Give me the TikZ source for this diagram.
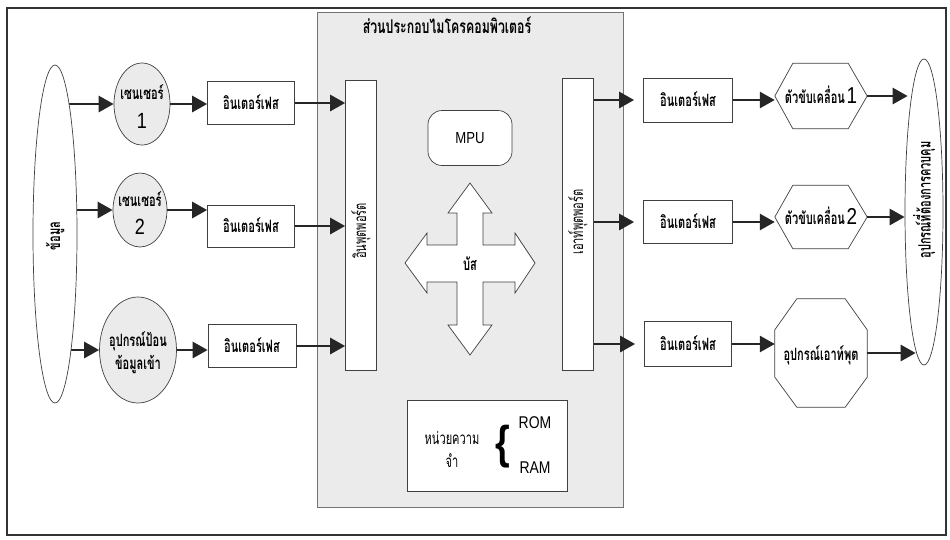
\documentclass[tikz,border=0pt]{standalone}
\usepackage{fontspec}
\setmainfont{Liberation Sans}
\newfontfamily\thf[Script=Thai,FakeStretch=0.65]{Loma}
\newfontfamily\narrowf[FakeStretch=0.82]{Liberation Sans}
\usetikzlibrary{arrows.meta,shapes.geometric,calc}
\pgfdeclarelayer{bg}
\pgfsetlayers{bg,main}
\begin{document}
\begin{tikzpicture}[x=1pt,y=-1pt,
  shp/.style={draw=black!75,line width=0.7pt},
  box/.style={shp,rectangle,fill=white,inner sep=0pt},
  oval/.style={shp,ellipse,inner sep=0pt},
  arr/.style={line width=2.8pt,draw=black!85,-{Triangle[length=15pt,width=16pt]}},
  thb/.style={font=\thf\bfseries\fontsize{17}{19}\selectfont,inner sep=0pt},
  thr/.style={font=\thf\fontsize{17}{19}\selectfont,inner sep=0pt},
  numf/.style={font=\narrowf\fontsize{22}{22}\selectfont,inner sep=0pt},
  latf/.style={font=\narrowf\fontsize{17}{17}\selectfont,inner sep=0pt},
]
\useasboundingbox (0,0) rectangle (950,539);
\begin{pgfonlayer}{bg}
\fill[white] (0,0) rectangle (950,539);
\draw[line width=1.6pt,black!80] (7,8) rectangle (946,535);
\end{pgfonlayer}

% central block
\node[draw=black!55,fill=black!8,minimum width=306pt,minimum height=495pt,inner sep=0pt] (core) at (470,259.5) {};
\node[thb,font=\thf\bfseries\fontsize{19}{21}\selectfont] (title) at (447,25) {ส่วนประกอบไมโครคอมพิวเตอร์};
\node[box,minimum width=31pt,minimum height=290pt] (pin) at (361,225) {};
\node[thr,rotate=90] (pinlbl) at (361,231) {อินพุตพอร์ต};
\node[box,minimum width=31pt,minimum height=292pt] (pout) at (578,224) {};
\node[thr,rotate=90] (poutlbl) at (578,222) {เอาท์พุตพอร์ต};
\node[box,rounded corners=14pt,minimum width=84pt,minimum height=55pt] (mpu) at (470,138) {};
\node[latf,font=\narrowf\fontsize{16}{16}\selectfont] (mpulbl) at (470,138) {MPU};

% bus arrows
\draw[shp,fill=white] (405,263) -- (427,233) -- (427,245) -- (457,245) -- (457,213) -- (448,213) -- (470,183)
  -- (492,213) -- (483,213) -- (483,245) -- (515,245) -- (515,233) -- (535,263) -- (515,293) -- (515,282)
  -- (483,282) -- (483,325) -- (492,325) -- (470,355) -- (448,325) -- (457,325) -- (457,282) -- (427,282)
  -- (427,293) -- cycle;
\node[thb] (bus) at (470,264) {บัส};

% memory
\node[box,minimum width=160pt,minimum height=91pt] (mem) at (487,445.5) {};
\node[thr,align=center] (memlbl) at (452,449) {หน่วยความ\\[4pt]จำ};
\node[inner sep=0pt,font=\narrowf\bfseries\fontsize{46}{46}\selectfont] (brace) at (503,447) {\{};
\node[latf] (rom) at (535,423) {ROM};
\node[latf] (ram) at (535,468) {RAM};

% left side
\node[oval,fill=white,minimum width=44pt,minimum height=338pt] (data) at (55,234) {};
\node[thb,rotate=90] (datalbl) at (55,236) {ข้อมูล};
\node[oval,fill=black!8,minimum width=56pt,minimum height=82pt] (s1) at (142,104) {};
\node[thb] (s1t) at (142,92) {เซนเซอร์};
\node[numf] (s1n) at (142,121) {1};
\node[oval,fill=black!8,minimum width=54pt,minimum height=74pt] (s2) at (140,210) {};
\node[thb] (s2t) at (140,199) {เซนเซอร์};
\node[numf] (s2n) at (140,227) {2};
\node[oval,fill=black!8,minimum width=77pt,minimum height=106pt] (inp) at (138,350) {};
\node[thb,align=center] (inpt) at (138,353) {อุปกรณ์ป้อน\\[4pt]ข้อมูลเข้า};

\node[box,minimum width=87pt,minimum height=43pt] (if1) at (251,103) {};
\node[thb] (if1t) at (251,102) {อินเตอร์เฟส};
\node[box,minimum width=87pt,minimum height=42pt] (if2) at (251,226) {};
\node[thb] (if2t) at (251,225) {อินเตอร์เฟส};
\node[box,minimum width=88pt,minimum height=43pt] (if3) at (252,346) {};
\node[thb] (if3t) at (252,345) {อินเตอร์เฟส};

% right side
\node[box,minimum width=89pt,minimum height=44pt] (of1) at (688,100) {};
\node[thb] (of1t) at (688,99) {อินเตอร์เฟส};
\node[box,minimum width=89pt,minimum height=43pt] (of2) at (688,222) {};
\node[thb] (of2t) at (688,221) {อินเตอร์เฟส};
\node[box,minimum width=87pt,minimum height=45pt] (of3) at (688,344) {};
\node[thb] (of3t) at (688,343) {อินเตอร์เฟส};

\node[inner sep=0pt,minimum width=92pt,minimum height=65pt] (h1) at (821,96) {};
\draw[shp] (h1.west) -- ([xshift=18pt]h1.north west) -- ([xshift=-19pt]h1.north east) -- (h1.east)
  -- ([xshift=-19pt]h1.south east) -- ([xshift=18pt]h1.south west) -- cycle;
\node[inner sep=0pt] (h1t) at (821,95) {{\thf\bfseries\fontsize{17}{19}\selectfont ตัวขับเคลื่อน}\,{\narrowf\fontsize{23}{23}\selectfont 1}};
\node[inner sep=0pt,minimum width=92pt,minimum height=63pt] (h2) at (821,217) {};
\draw[shp] (h2.west) -- ([xshift=18pt]h2.north west) -- ([xshift=-19pt]h2.north east) -- (h2.east)
  -- ([xshift=-19pt]h2.south east) -- ([xshift=18pt]h2.south west) -- cycle;
\node[inner sep=0pt] (h2t) at (821,216) {{\thf\bfseries\fontsize{17}{19}\selectfont ตัวขับเคลื่อน}\,{\narrowf\fontsize{23}{23}\selectfont 2}};
\node[inner sep=0pt,minimum width=92pt,minimum height=108pt] (oct) at (821,353) {};
\draw[shp] ([yshift=-31pt]oct.north west) -- ([xshift=22pt]oct.north west) -- ([xshift=-22pt]oct.north east)
  -- ([yshift=-31pt]oct.north east) -- ([yshift=30pt]oct.south east) -- ([xshift=-22pt]oct.south east)
  -- ([xshift=22pt]oct.south west) -- ([yshift=30pt]oct.south west) -- cycle;
\node[thb] (octt) at (821,355) {อุปกรณ์เอาท์พุต};

\node[oval,fill=white,minimum width=38pt,minimum height=306pt] (ctl) at (924,212) {};
\node[thb,rotate=90] (ctllbl) at (924,200) {อุปกรณ์ที่ต้องการควบคุม};

% connectors
\begin{pgfonlayer}{bg}
\draw[arr] (data.center |- s1.west) -- (s1.west);
\draw[arr] (data.center |- s2.west) -- (s2.west);
\draw[arr] (data.center |- inp.west) -- (inp.west);
\end{pgfonlayer}
\draw[arr] (s1.east) -- (s1.east -| if1.west);
\draw[arr] (s2.east) -- (s2.east -| if2.west);
\draw[arr] (inp.east) -- (inp.east -| if3.west);
\draw[arr] (if1.east) -- (if1.east -| pin.west);
\draw[arr] (if2.east) -- (if2.east -| pin.west);
\draw[arr] (if3.east) -- (if3.east -| pin.west);
\draw[arr,shorten >=9pt] (pout.east |- of1.west) -- (of1.west);
\draw[arr,shorten >=9pt] (pout.east |- of2.west) -- (of2.west);
\draw[arr,shorten >=9pt] (pout.east |- of3.west) -- (of3.west);
\draw[arr] (of1.east) -- (of1.east -| h1.west);
\draw[arr] (of2.east) -- (of2.east -| h2.west);
\draw[arr] (of3.east) -- (of3.east -| oct.west);
\draw[arr] (h1.east) -- ([xshift=3pt]h1.east -| ctl.west);
\draw[arr] (h2.east) -- (h2.east -| ctl.west);
\draw[arr] (oct.east) -- ([xshift=11pt]oct.east -| ctl.west);
\end{tikzpicture}
\end{document}
